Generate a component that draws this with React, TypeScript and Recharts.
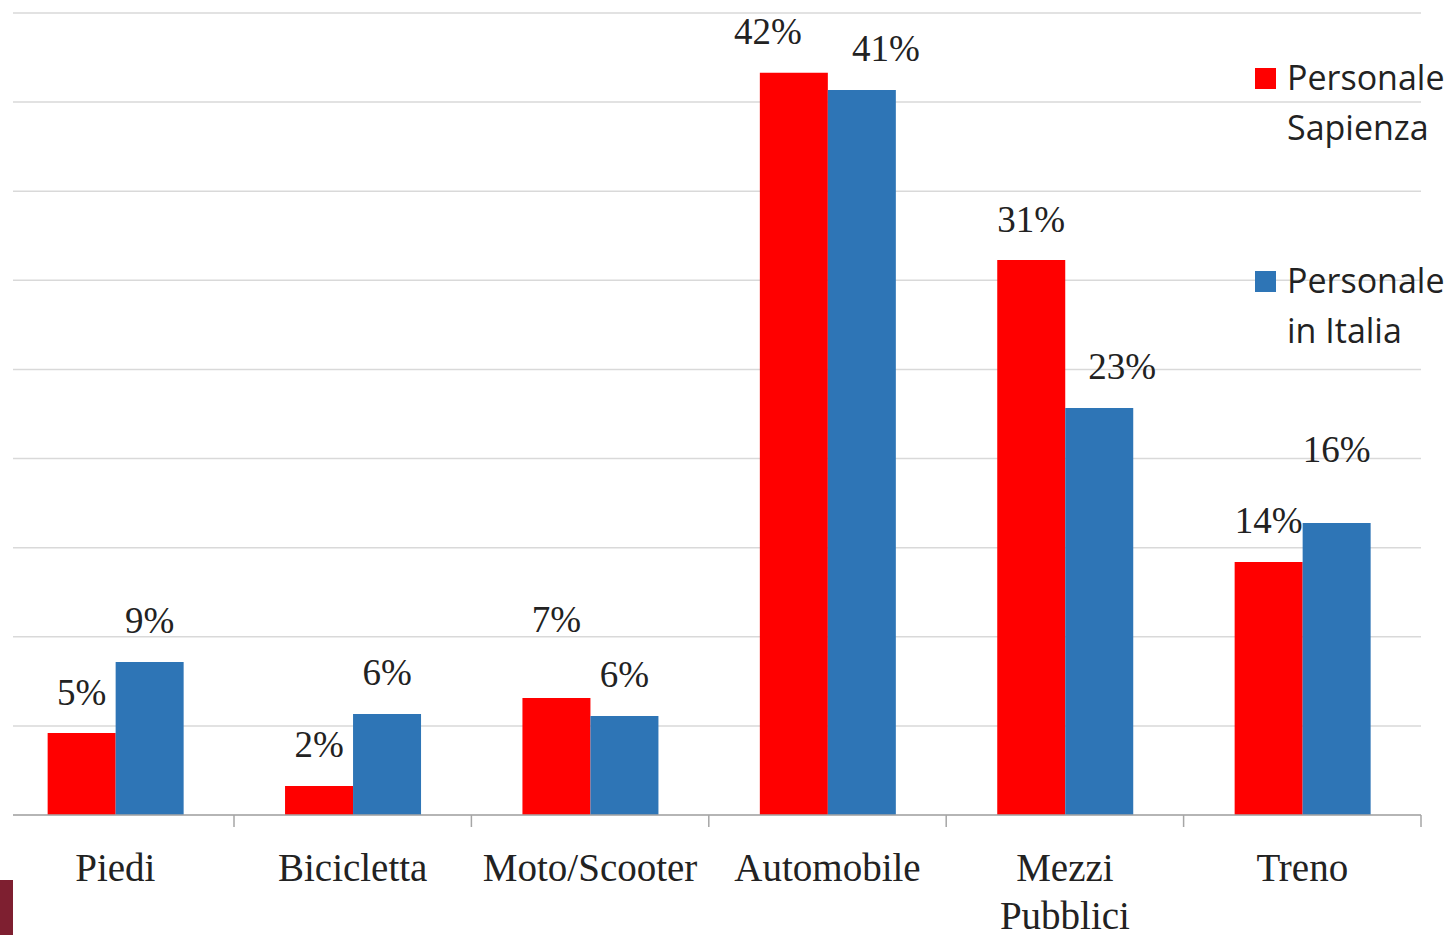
import React from 'react';
import { BarChart, Bar, XAxis, YAxis, CartesianGrid, LabelList, Legend } from 'recharts';

const categories = ['Piedi', 'Bicicletta', 'Moto/Scooter', 'Automobile', 'Mezzi Pubblici', 'Treno'];
const sapienza = [4.6, 1.63, 6.57, 41.65, 31.14, 14.2];
const italia = [8.59, 5.67, 5.56, 40.68, 22.84, 16.39];
const yTicks = [0, 5, 10, 15, 20, 25, 30, 35, 40, 45];
const seriesNames = ['Personale Sapienza', 'Personale in Italia'];

const data = categories.map((name, i) => ({ name, sapienza: sapienza[i], italia: italia[i] }));

// label nudges (dx, dy) relative to default label placement, keyed by series-index
const labelNudge: Record<string, [number, number]> = {
  'sapienza-2': [0, -37],
  'sapienza-3': [-26, 0],
  'italia-3': [24, 0],
  'italia-4': [23, 0],
  'italia-5': [0, -32],
};

const RED = '#FF0000';
const BLUE = '#2E75B6';
const TEXT = '#222222';
const SERIF = '"Liberation Serif", "Times New Roman", serif';
const SANS = '"Open Sans", "Noto Sans", sans-serif';

const makeLabel = (key: string) => (props: any) => {
  const { x, y, width, value, index } = props;
  const [dx, dy] = labelNudge[`${key}-${index}`] || [0, 0];
  return (
    <text
      x={Number(x) + Number(width) / 2 + dx}
      y={Number(y) - 41 + dy}
      textAnchor="middle"
      dominantBaseline="central"
      fontFamily={SERIF}
      fontSize={37}
      fill={TEXT}
    >
      {`${Math.round(Number(value))}%`}
    </text>
  );
};

const CategoryTick = (props: any) => {
  const { x, y, payload } = props;
  const half = payload && typeof payload.offset === 'number' ? payload.offset : 118.7;
  const lines = String(payload.value).split(' ');
  return (
    <g>
      <line x1={x + half} x2={x + half} y1={y} y2={y + 12} stroke="#A6A6A6" strokeWidth={1.5} />
      <text x={x} y={y + 66} textAnchor="middle" fontFamily={SERIF} fontSize={39} fill={TEXT}>
        {lines.map((l, i) => (
          <tspan key={i} x={x} dy={i === 0 ? 0 : 48}>
            {l}
          </tspan>
        ))}
      </text>
    </g>
  );
};

const LegendContent = (props: any) => {
  const payload = props.payload || [];
  return (
    <div style={{ fontFamily: SANS, fontSize: 34, color: TEXT, lineHeight: '50px' }}>
      {payload.map((p: any, i: number) => {
        const [first, ...rest] = String(p.value).split(' ');
        return (
          <div key={i} style={{ position: 'relative', paddingLeft: 32, height: 100, marginBottom: i === 0 ? 103 : 0 }}>
            <span style={{ position: 'absolute', left: 0, top: 16, width: 21, height: 21, background: p.color }} />
            <div style={{ whiteSpace: 'nowrap' }}>{first}</div>
            <div style={{ whiteSpace: 'nowrap' }}>{rest.join(' ')}</div>
          </div>
        );
      })}
    </div>
  );
};

export default function App() {
  return (
    <div style={{ position: 'absolute', left: 0, top: 0, width: 1456, height: 935, background: '#fff', overflow: 'hidden' }}>
      <BarChart
        width={1456}
        height={935}
        data={data}
        margin={{ top: 13, right: 35, bottom: 0, left: 13 }}
        barCategoryGap="21.5%"
        barGap={0}
      >
        <CartesianGrid vertical={false} stroke="#D9D9D9" strokeWidth={1.5} />
        <YAxis hide domain={[0, 45]} ticks={yTicks} />
        <XAxis
          dataKey="name"
          height={120}
          padding={{ left: -16.4, right: 0 }}
          axisLine={{ stroke: '#A6A6A6', strokeWidth: 1.5 }}
          tickLine={false}
          tickSize={0}
          tickMargin={0}
          interval={0}
          tick={<CategoryTick />}
        />
        <Legend
          layout="vertical"
          align="center"
          verticalAlign="middle"
          content={<LegendContent />}
          wrapperStyle={{ position: 'absolute', left: 1255, top: 52, width: 201, height: 310 }}
        />
        <Bar dataKey="sapienza" name={seriesNames[0]} fill={RED} isAnimationActive={false}>
          <LabelList dataKey="sapienza" content={makeLabel('sapienza')} />
        </Bar>
        <Bar dataKey="italia" name={seriesNames[1]} fill={BLUE} isAnimationActive={false}>
          <LabelList dataKey="italia" content={makeLabel('italia')} />
        </Bar>
      </BarChart>
      <div style={{ position: 'absolute', left: 0, top: 880, width: 13, height: 55, background: '#7E1F30' }} />
    </div>
  );
}
